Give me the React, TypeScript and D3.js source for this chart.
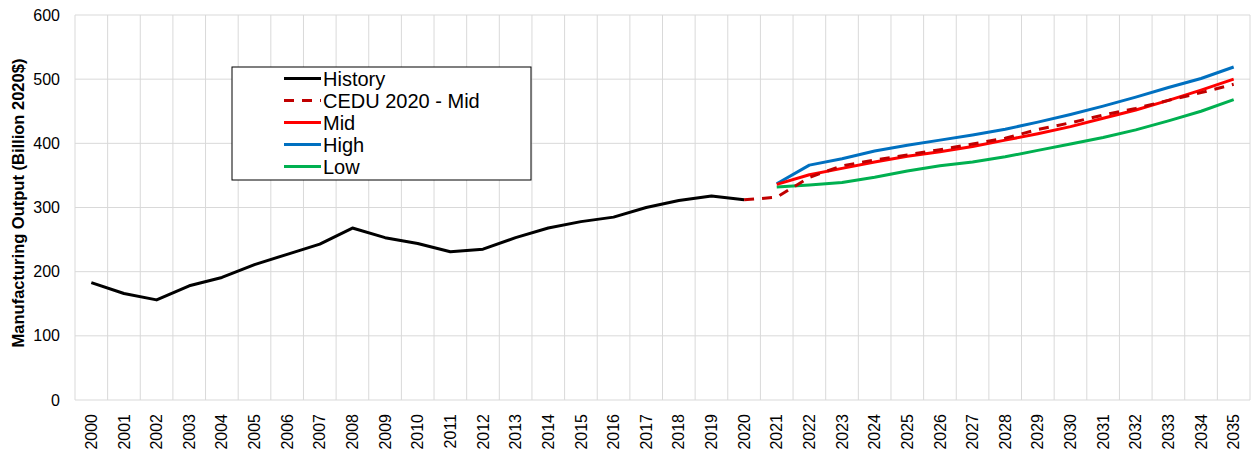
import React from "react";
import * as d3 from "d3";

const years: number[] = d3.range(2000, 2036);
const yTicks: number[] = [0, 100, 200, 300, 400, 500, 600];

const historyYears: number[] = d3.range(2000, 2021);
const historyValues: number[] = [183, 166, 156, 178, 191, 211, 227, 243, 268, 253, 244, 231, 235, 253, 268, 278, 285, 300, 311, 318, 312];

const ceduYears: number[] = d3.range(2020, 2036);
const ceduValues: number[] = [312, 316, 347, 365, 374, 382, 390, 399, 408, 421.5, 432, 444, 454.5, 467, 479, 492];

const scenarioYears: number[] = d3.range(2021, 2036);
const midValues: number[] = [336, 351, 361, 371, 380, 387, 395, 405, 415, 426, 439, 452, 467, 483, 500];
const highValues: number[] = [337, 366, 376, 388, 397, 405, 413, 422, 433, 445, 458, 472, 487, 501, 519];
const lowValues: number[] = [332, 335, 339, 347, 357, 365, 371, 379, 389, 399, 409, 421, 435, 450, 468];

const legendItems = [
  { label: "History", color: "#000000", dash: "" },
  { label: "CEDU 2020 - Mid", color: "#c00000", dash: "10,8" },
  { label: "Mid", color: "#ff0000", dash: "" },
  { label: "High", color: "#0070c0", dash: "" },
  { label: "Low", color: "#00b050", dash: "" },
];

export default function App() {
  const W = 1251, H = 453;
  const left = 75, right = 1250, top = 15, bottom = 400;
  const x = d3.scaleBand<number>().domain(years).range([left, right]).padding(0);
  const y = d3.scaleLinear().domain([0, 600]).range([bottom, top]);
  const cx = (yr: number) => (x(yr) as number) + x.bandwidth() / 2;
  const line = (xs: number[], vs: number[]) =>
    d3.line<number>().x((_, i) => cx(xs[i])).y((v) => y(v))(vs) as string;

  const series = [
    { xs: historyYears, vs: historyValues, color: "#000000", dash: "" },
    { xs: ceduYears, vs: ceduValues, color: "#c00000", dash: "10,8" },
    { xs: scenarioYears, vs: lowValues, color: "#00b050", dash: "" },
    { xs: scenarioYears, vs: highValues, color: "#0070c0", dash: "" },
    { xs: scenarioYears, vs: midValues, color: "#ff0000", dash: "" },
  ];
  const order = [0, 2, 3, 4, 1];

  const font = "'Liberation Sans', Arial, sans-serif";
  const gridX = [...years.map((yr) => x(yr) as number), right];

  const lgX = 232, lgY = 67, lgW = 299, lgH = 113;

  return (
    <svg width={W} height={H} style={{ position: "absolute", left: 0, top: 0, background: "#fff" }} fontFamily={font}>
      <rect x={0} y={0} width={W} height={H} fill="#fff" />
      {yTicks.map((t) => (
        <line key={"h" + t} x1={left} x2={right} y1={y(t)} y2={y(t)} stroke="#d9d9d9" strokeWidth={1} />
      ))}
      {gridX.map((gx, i) => (
        <line key={"v" + i} x1={gx} x2={gx} y1={top} y2={bottom} stroke="#d9d9d9" strokeWidth={1} />
      ))}
      {yTicks.map((t) => (
        <text key={"yl" + t} x={left - 15} y={y(t)} dy="0.35em" textAnchor="end" fontSize={16} fill="#000">
          {t}
        </text>
      ))}
      {years.map((yr) => (
        <text
          key={"xl" + yr}
          transform={`translate(${cx(yr)},${bottom + 14}) rotate(-90)`}
          textAnchor="end"
          dy="0.35em"
          fontSize={16}
          fill="#000"
        >
          {yr}
        </text>
      ))}
      <text
        transform={`translate(18,203) rotate(-90)`}
        textAnchor="middle"
        dy="0.35em"
        fontSize={16.5}
        fontWeight="bold"
        fill="#000"
      >
        Manufacturing Output (Billion 2020$)
      </text>
      {order.map((k) => {
        const s = series[k];
        return (
          <path
            key={"s" + k}
            d={line(s.xs, s.vs)}
            fill="none"
            stroke={s.color}
            strokeWidth={3}
            strokeDasharray={s.dash || undefined}
            strokeLinejoin="round"
          />
        );
      })}
      <rect x={lgX} y={lgY} width={lgW} height={lgH} fill="#fff" stroke="#000" strokeWidth={1} />
      {legendItems.map((it, i) => {
        const ly = 78.5 + i * 22;
        return (
          <g key={"lg" + i}>
            <line x1={284} x2={321} y1={ly} y2={ly} stroke={it.color} strokeWidth={3} strokeDasharray={it.dash || undefined} />
            <text x={323} y={ly} dy="0.35em" fontSize={20} fill="#000">
              {it.label}
            </text>
          </g>
        );
      })}
    </svg>
  );
}
